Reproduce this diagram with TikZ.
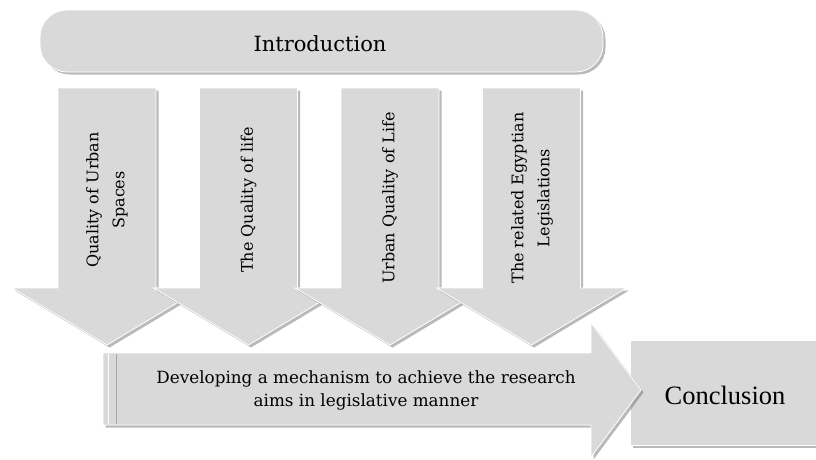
\documentclass[tikz,border=0pt]{standalone}
\usepackage{fontspec}
\setmainfont{DejaVu Serif}
\newfontfamily\concfont{Liberation Serif}
\usetikzlibrary{shadows}
\definecolor{boxgray}{HTML}{D9D9D9}
\begin{document}
\begin{tikzpicture}[x=1pt,y=-1pt,
  shp/.style={fill=boxgray, draw=white, line width=0.8pt,
    drop shadow={shadow xshift=2.5pt,shadow yshift=-2.5pt,opacity=0.45,fill=black!60}},
  vtext/.style={rotate=90, align=center, font=\fontsize{16}{26}\selectfont, inner sep=0pt},
  htext/.style={align=center, inner sep=0pt}]
\useasboundingbox (0,0) rectangle (816,459);
\clip (0,0) rectangle (816,459);
\fill[white] (0,0) rectangle (816,459);
% Introduction bar
\draw[shp, rounded corners=27pt] (40,10) rectangle (603,72);
% downward arrows
\foreach \c in {107,248.5,390,531.5}{
  \draw[shp] (\c-49,88) -- (\c+49,88) -- (\c+49,288) -- (\c+95,288) -- (\c,345)
    -- (\c-95,288) -- (\c-49,288) -- cycle;
}
% Conclusion box
\draw[shp] (630,340) rectangle (830,445);
% horizontal arrow
\draw[shp] (103,353) -- (591,353) -- (591,323) -- (641,390) -- (591,457)
  -- (591,425) -- (103,425) -- cycle;
\draw[white, line width=1pt] (108,354) -- (108,424);
\draw[black!35, line width=0.8pt] (116,354) -- (116,424);
% texts
\node[htext, font=\fontsize{21}{25}\selectfont] (intro) at (320,44) {Introduction};
\node[vtext] (t1) at (107,200) {Quality of Urban\\Spaces};
\node[vtext] (t2) at (248.5,200) {The Quality of life};
\node[vtext] (t3) at (390,198) {Urban Quality of Life};
\node[vtext] (t4) at (532,198) {The related Egyptian\\Legislations};
\node[htext, font=\fontsize{16.8}{23}\selectfont] (dev) at (366,390)
  {Developing a mechanism to achieve the research\\aims in legislative manner};
\node[htext, font=\concfont\fontsize{26.5}{30}\selectfont] (conc) at (725,395) {Conclusion};
\end{tikzpicture}
\end{document}
